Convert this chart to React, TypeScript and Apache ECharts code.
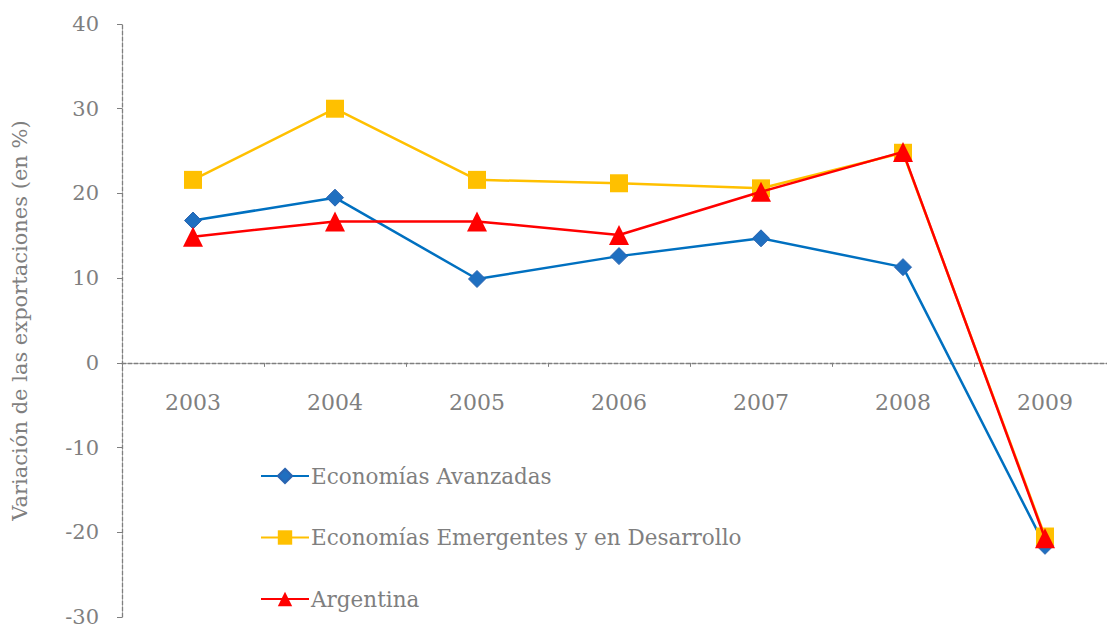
import React, { useEffect, useRef } from "react";
import * as echarts from "echarts";

const years = ["2003", "2004", "2005", "2006", "2007", "2008", "2009"];
const avanzadas = [16.8, 19.5, 9.9, 12.6, 14.7, 11.3, -21.6];
const emergentes = [21.6, 30.0, 21.6, 21.2, 20.6, 24.8, -20.5];
const argentina = [14.9, 16.7, 16.7, 15.1, 20.2, 24.9, -20.7];

const FONT = "DejaVu Serif";
const GRAY = "#7f7f7f";

export default function App() {
  const ref = useRef<HTMLDivElement>(null);
  useEffect(() => {
    document.body.style.margin = "0";
    const chart = echarts.init(ref.current!, null, { renderer: "svg" });
    chart.setOption({
      animation: false,
      textStyle: { fontFamily: FONT },
      grid: { left: 122, top: 24, width: 994, height: 593, containLabel: false, outerBoundsMode: "none" },
      legend: {
        orient: "vertical",
        left: 255,
        top: 460,
        itemGap: 39.5,
        itemWidth: 48,
        itemHeight: 18,
        textStyle: { fontFamily: FONT, fontSize: 21.5, color: GRAY, padding: [0, 0, 0, -3] },
        data: ["Economías Avanzadas", "Economías Emergentes y en Desarrollo", "Argentina"],
      },
      xAxis: {
        type: "category",
        data: years,
        boundaryGap: true,
        axisLine: { onZero: true, lineStyle: { color: GRAY, type: [4, 2], width: 1.3 } },
        axisTick: { show: true, length: 4, lineStyle: { color: GRAY } },
        axisLabel: { fontFamily: FONT, fontSize: 22, color: GRAY, margin: -226 },
        splitLine: { show: false },
      },
      yAxis: {
        type: "value",
        min: -30,
        max: 40,
        interval: 10,
        name: "Variación de las exportaciones (en %)",
        nameLocation: "middle",
        nameGap: 92,
        nameTextStyle: { fontFamily: FONT, fontSize: 21, color: GRAY },
        axisLine: { show: true, lineStyle: { color: GRAY, type: [4, 2], width: 1.3 } },
        axisTick: { show: true, inside: false, length: 5, lineStyle: { color: GRAY } },
        axisLabel: { fontFamily: FONT, fontSize: 21, color: GRAY, margin: 23 },
        splitLine: { show: false },
      },
      series: [
        {
          name: "Economías Avanzadas",
          type: "line",
          data: avanzadas,
          symbol: "diamond",
          symbolSize: 17,
          itemStyle: { color: "#1f6fc0", borderColor: "#2a64b0", borderWidth: 1 },
          lineStyle: { color: "#0070C0", width: 2.5 },
          z: 2,
        },
        {
          name: "Economías Emergentes y en Desarrollo",
          type: "line",
          data: emergentes,
          symbol: "rect",
          symbolSize: 18,
          itemStyle: { color: "#FFC000" },
          lineStyle: { color: "#FFC000", width: 2.5 },
          z: 3,
        },
        {
          name: "Argentina",
          type: "line",
          data: argentina,
          symbol: "triangle",
          symbolSize: 20,
          itemStyle: { color: "#FF0000" },
          lineStyle: { color: "#FF0000", width: 2.5 },
          z: 4,
        },
      ],
    });
    return () => chart.dispose();
  }, []);
  return <div ref={ref} style={{ width: 1107, height: 630 }} />;
}
